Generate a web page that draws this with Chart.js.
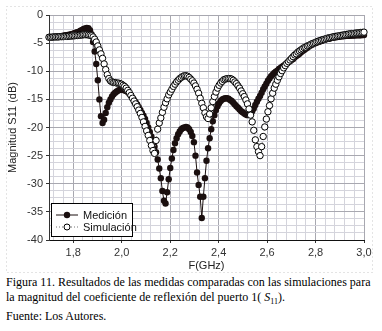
<!DOCTYPE html>
<html lang="es">
<head>
  <meta charset="UTF-8" />
  <title>Figura 11 - Magnitud S11</title>
  <script src="https://cdn.jsdelivr.net/npm/chart.js"></script>
  <style>
    body { margin: 0; background: #fff; }
    #wrap { position: relative; width: 382px; height: 331px; }
    #chart { position: absolute; left: 0; top: 0; }
    #legend {
      position: absolute; left: 51px; top: 203px; width: 80px; height: 32px;
      border: 1px solid #000; background: #fff;
      font: 11px "Liberation Sans", Arial, sans-serif; color: #111;
    }
    #legend .row { position: absolute; left: 4px; height: 12px; line-height: 12px; white-space: nowrap; }
    #legend svg { vertical-align: top; margin-right: 5px; }
    #caption {
      position: absolute; left: 6px; top: 275px; width: 376px;
      font: 12px "Liberation Serif", "Times New Roman", serif; line-height: 15px; color: #000;
    }
  </style>
</head>
<body>
<div id="wrap">
  <canvas id="chart" width="382" height="274"></canvas>
  <div id="legend">
    <div class="row" style="top:5px"><svg width="22" height="12"><line x1="0" y1="6" x2="22" y2="6" stroke="#1a0f0f" stroke-width="1"/><circle cx="11" cy="6" r="3.2" fill="#1a0f0f"/></svg>Medición</div>
    <div class="row" style="top:17px"><svg width="22" height="12"><line x1="0" y1="6" x2="22" y2="6" stroke="#777" stroke-width="1" stroke-dasharray="1,2"/><circle cx="11" cy="6" r="3" fill="#fff" stroke="#000" stroke-width="1"/></svg>Simulación</div>
  </div>
  <div id="caption">Figura 11. Resultados de las medidas comparadas con las simulaciones para la magnitud del coeficiente de reflexión del puerto 1( <i>S</i><sub style="font-size:8px">11</sub>).<br>Fuente: Los Autores.</div>
</div>

<script>
  // sweep: 201 points, 1.7 - 3.0 GHz
  const freqStart = 1.7;
  const freqStep = 0.0065;

  const medicion = [
    -3.95, -3.95, -3.9, -3.9, -3.85, -3.85, -3.8, -3.8, -3.75, -3.7,
    -3.65, -3.6, -3.55, -3.5, -3.4, -3.35, -3.25, -3.15, -3.05, -2.95,
    -2.8, -2.65, -2.5, -2.4, -2.3, -2.35, -2.7, -3.4, -4.8, -6.5,
    -8.7, -11.6, -15.0, -18.0, -19.2, -18.6, -17.4, -16.4, -15.6, -15.0,
    -14.5, -14.1, -13.8, -13.6, -13.4, -13.3, -13.3, -13.3, -13.4, -13.5,
    -13.7, -14.0, -14.3, -14.7, -15.1, -15.5, -15.9, -16.4, -16.9, -17.4,
    -17.9, -18.5, -19.2, -20.0, -20.8, -21.6, -22.5, -23.4, -24.4, -25.7,
    -27.3, -29.0, -31.3, -33.0, -33.5, -31.5, -29.2, -27.2, -25.5, -24.0,
    -22.8, -21.9, -21.2, -20.7, -20.3, -20.1, -20.0, -19.9, -20.0, -20.3,
    -20.8, -21.5, -22.6, -25.0, -28.0, -30.2, -32.3, -36.1, -32.3, -29.0,
    -25.9, -23.7, -21.9, -20.3, -18.9, -17.8, -16.9, -16.2, -15.7, -15.3,
    -15.0, -14.9, -14.8, -14.8, -14.9, -15.1, -15.3, -15.6, -15.9, -16.2,
    -16.5, -16.8, -17.1, -17.3, -17.5, -17.7, -17.8, -17.7, -17.5, -17.1,
    -16.6, -16.0, -15.4, -14.9, -14.4, -13.8, -13.2, -12.7, -12.2, -11.7,
    -11.3, -10.9, -10.6, -10.3, -10.1, -9.9, -9.6, -9.4, -9.2, -9.0,
    -8.8, -8.6, -8.4, -8.2, -8.0, -7.8, -7.5, -7.3, -7.1, -6.9,
    -6.6, -6.4, -6.2, -6.0, -5.8, -5.6, -5.4, -5.3, -5.1, -5.0,
    -4.9, -4.8, -4.7, -4.6, -4.5, -4.4, -4.3, -4.25, -4.2, -4.1,
    -4.05, -4.0, -3.95, -3.9, -3.85, -3.8, -3.8, -3.75, -3.75, -3.7,
    -3.7, -3.7, -3.65, -3.65, -3.65, -3.6, -3.6, -3.6, -3.6, -3.55, -3.55
  ];

  const simulacion = [
    -3.95, -3.95, -3.95, -3.9, -3.9, -3.9, -3.9, -3.85, -3.85, -3.85,
    -3.8, -3.8, -3.8, -3.75, -3.75, -3.7, -3.7, -3.65, -3.65, -3.6,
    -3.6, -3.55, -3.5, -3.5, -3.5, -3.55, -3.6, -3.7, -3.9, -4.3,
    -4.8, -5.5, -6.2, -6.9, -7.7, -8.7, -9.7, -10.6, -11.3, -11.7,
    -11.9, -12.0, -12.0, -12.1, -12.1, -12.2, -12.3, -12.5, -12.7, -13.0,
    -13.4, -13.8, -14.3, -14.8, -15.3, -15.8, -16.3, -16.9, -17.5, -18.2,
    -19.0, -19.8, -20.6, -21.4, -22.3, -23.2, -24.1, -24.6, -22.3, -20.3,
    -19.2, -18.3, -17.3, -16.4, -15.6, -14.9, -14.2, -13.7, -13.2, -12.7,
    -12.3, -11.9, -11.6, -11.3, -11.1, -10.9, -10.8, -10.8, -10.9, -11.1,
    -11.4, -11.7, -12.1, -12.6, -13.2, -13.9, -14.8, -15.7, -16.5, -17.4,
    -18.1, -18.4, -17.6, -16.5, -15.4, -14.5, -13.7, -13.0, -12.5, -12.1,
    -11.8, -11.5, -11.4, -11.3, -11.3, -11.3, -11.4, -11.6, -11.9, -12.2,
    -12.6, -13.0, -13.5, -14.0, -14.5, -15.1, -15.8, -16.7, -17.8, -19.0,
    -20.5, -22.2, -23.4, -24.3, -25.0, -23.4, -21.6, -19.9, -18.5, -17.2,
    -16.1, -14.9, -13.9, -13.0, -12.3, -11.6, -11.0, -10.4, -9.9, -9.4,
    -9.0, -8.6, -8.3, -8.0, -7.7, -7.4, -7.1, -6.9, -6.6, -6.4,
    -6.2, -6.0, -5.8, -5.7, -5.5, -5.4, -5.25, -5.1, -5.0, -4.9,
    -4.75, -4.65, -4.55, -4.45, -4.35, -4.3, -4.2, -4.1, -4.05, -4.0,
    -3.9, -3.85, -3.8, -3.75, -3.7, -3.65, -3.6, -3.55, -3.5, -3.45,
    -3.4, -3.35, -3.3, -3.3, -3.25, -3.2, -3.2, -3.15, -3.1, -3.1, -3.05
  ];

  // axis ticks (labels only on the major ones)
  const xMajorTicks = [1.8, 2.0, 2.2, 2.4, 2.6, 2.8, 3.0];
  const yMajorTicks = [0, -5, -10, -15, -20, -25, -30, -35, -40];
  const xMinorStep = 0.04;
  const yMinorStep = 1.25;

  const freqs = medicion.map((_, i) => +(freqStart + i * freqStep).toFixed(4));
  const toXY = arr => arr.map((v, i) => ({ x: freqs[i], y: v }));

  const isXMajor = v => xMajorTicks.some(t => Math.abs(t - v) < 1e-6);
  const isYMajor = v => yMajorTicks.some(t => Math.abs(t - v) < 1e-6);

  const framePlugin = {
    id: 'frame',
    beforeDraw(chart) {
      const ctx = chart.ctx;
      ctx.save();
      ctx.strokeStyle = '#c8c8c8';
      ctx.lineWidth = 1;
      ctx.setLineDash([1, 3]);
      ctx.strokeRect(6.5, 6.5, 366, 266);
      ctx.restore();
    }
  };

  new Chart(document.getElementById('chart'), {
    type: 'line',
    data: {
      datasets: [
        {
          label: 'Simulación',
          data: toXY(simulacion),
          order: 0,
          borderColor: '#888',
          borderWidth: 1,
          borderDash: [1, 2],
          pointRadius: 3.2,
          pointBorderWidth: 1,
          pointBackgroundColor: '#fff',
          pointBorderColor: '#000',
          tension: 0,
          clip: false
        },
        {
          label: 'Medición',
          data: toXY(medicion),
          order: 1,
          borderColor: '#1a0f0f',
          borderWidth: 1,
          pointRadius: 3.2,
          pointBorderWidth: 0,
          pointBackgroundColor: '#1a0f0f',
          tension: 0,
          clip: false
        }
      ]
    },
    options: {
      responsive: false,
      animation: false,
      layout: { padding: { left: 0, right: 18, top: 15, bottom: 0 } },
      plugins: { legend: { display: false }, tooltip: { enabled: false } },
      scales: {
        x: {
          type: 'linear',
          min: 1.7,
          max: 3.0,
          afterBuildTicks: s => {
            const t = [];
            for (let k = 43; k <= 75; k++) t.push({ value: +(k * xMinorStep).toFixed(2) });
            s.ticks = t;
          },
          afterFit: s => { s.height = 34; },
          ticks: {
            autoSkip: false,
            maxRotation: 0,
            padding: 3,
            color: '#333',
            font: { family: 'Liberation Sans', size: 11 },
            callback: v => isXMajor(v) ? v.toFixed(1).replace('.', ',') : ''
          },
          grid: {
            color: c => isXMajor(c.tick.value) ? '#a8a8b0' : '#d4d4dc',
            tickColor: c => isXMajor(c.tick.value) ? '#333' : 'rgba(0,0,0,0)',
            tickLength: 3
          },
          border: { color: '#111', width: 1 },
          title: {
            display: true,
            text: 'F(GHz)',
            color: '#222',
            font: { family: 'Liberation Sans', size: 11 },
            padding: { top: 2, bottom: 1 }
          }
        },
        y: {
          min: -40,
          max: 0,
          afterBuildTicks: s => {
            const t = [];
            for (let k = -32; k <= 0; k++) t.push({ value: k * yMinorStep });
            s.ticks = t;
          },
          afterFit: s => { s.width = 49; },
          ticks: {
            autoSkip: false,
            padding: 3,
            color: '#333',
            font: { family: 'Liberation Sans', size: 11 },
            callback: v => isYMajor(v) ? String(v) : ''
          },
          grid: {
            color: c => isYMajor(c.tick.value) ? '#a8a8b0' : '#d4d4dc',
            tickColor: c => isYMajor(c.tick.value) ? '#333' : 'rgba(0,0,0,0)',
            tickLength: 3
          },
          border: { color: '#333', width: 1 },
          title: {
            display: true,
            text: 'Magnitud S11 (dB)',
            color: '#222',
            font: { family: 'Liberation Sans', size: 11 },
            padding: { top: 6, bottom: 0 }
          }
        }
      }
    },
    plugins: [framePlugin]
  });
</script>
</body>
</html>
